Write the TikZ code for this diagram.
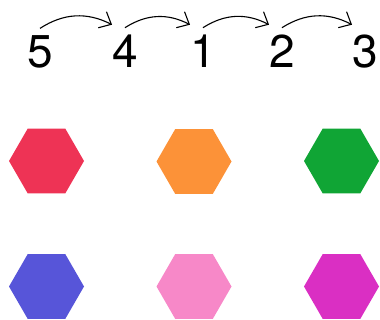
\documentclass[tikz,border=0pt]{standalone}
\usepackage{fontspec}
\setmainfont{TeX Gyre Heros}
\usepackage{xcolor}
\usetikzlibrary{shapes.geometric,arrows.meta}

\definecolor{hexred}{RGB}{238,51,85}
\definecolor{hexorange}{RGB}{252,146,56}
\definecolor{hexgreen}{RGB}{16,165,53}
\definecolor{hexblue}{RGB}{87,85,217}
\definecolor{hexpink}{RGB}{247,136,200}
\definecolor{hexmagenta}{RGB}{218,47,195}

\tikzset{
    digit/.style={anchor=base, inner sep=0pt, font=\fontsize{46}{46}\selectfont},
    hexa/.style={regular polygon, regular polygon sides=6, minimum size=75pt, inner sep=0pt},
    hop/.style={line width=1.1pt, -{Straight Barb[length=10pt, width=18pt]}}
}

\begin{document}
\begin{tikzpicture}[x=1pt, y=1pt]
    \useasboundingbox (0,0) rectangle (380,-320);

    % Sequence
    \node[digit] (n5) at (40,-67.5) {5};
    \node[digit] (n4) at (125,-67.5) {4};
    \node[digit] (n1) at (203,-67.5) {1};
    \node[digit] (n2) at (282,-67.5) {2};
    \node[digit] (n3) at (365,-67.5) {3};

    % Arrows between neighbours
    \draw[hop] ([yshift=7pt]n5.north) to[bend left=30] ([yshift=10pt]n4.north west);
    \draw[hop] ([yshift=7pt]n4.north) to[bend left=30] ([yshift=10pt]n1.north west);
    \draw[hop] ([yshift=7pt]n1.north) to[bend left=30] ([yshift=10pt]n2.north west);
    \draw[hop] ([yshift=7pt]n2.north) to[bend left=30] ([yshift=10pt]n3.north west);

    % Hexagons, first row
    \node[hexa, fill=hexred] (h1) at (46.5,-161) {};
    \node[hexa, fill=hexorange] (h2) at (194,-161.5) {};
    \node[hexa, fill=hexgreen] (h3) at (341.5,-161) {};

    % Hexagons, second row
    \node[hexa, fill=hexblue] (h4) at (46.5,-286.5) {};
    \node[hexa, fill=hexpink] (h5) at (194,-286.5) {};
    \node[hexa, fill=hexmagenta] (h6) at (341.5,-286.5) {};

\end{tikzpicture}
\end{document}
